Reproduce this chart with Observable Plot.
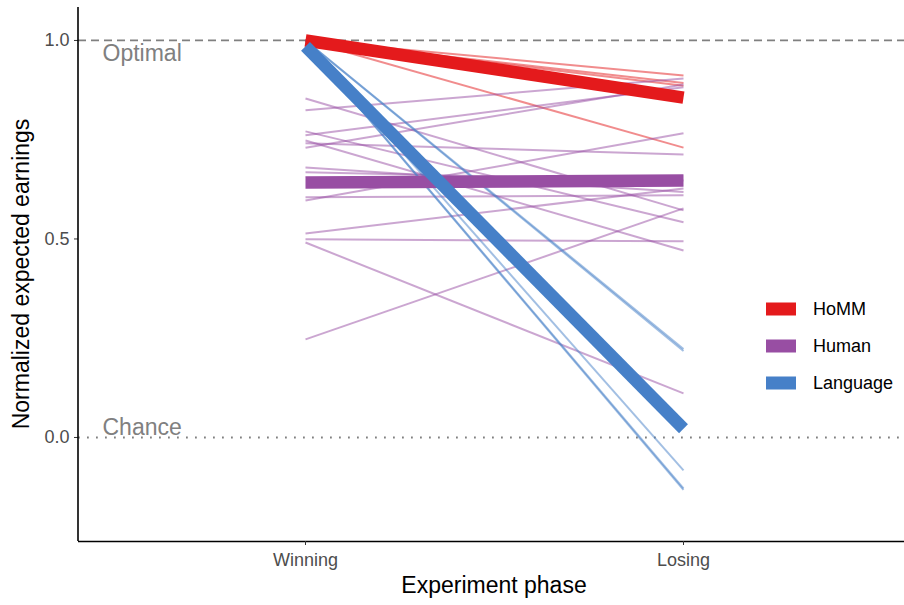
<!DOCTYPE html>
<html>
<head>
<meta charset="utf-8">
<script src="https://cdn.jsdelivr.net/npm/d3@7"></script>
<script src="https://cdn.jsdelivr.net/npm/@observablehq/plot@0.6"></script>
<style>
  body { margin: 0; background: #fff; }
  #chart svg { font-family: "Liberation Sans", Arial, Helvetica, sans-serif; }
</style>
</head>
<body>
<div id="chart"></div>
<script>
// Phases of the experiment and the three agent groups
const phases = ["Winning", "Losing"];
const groups = ["HoMM", "Human", "Language"];
const groupColors = ["#e41a1c", "#984ea3", "#4680c8"];

// Individual runs: normalized expected earnings per phase
const hommWinning = [1.0, 1.0, 1.0, 1.0];
const hommLosing = [0.912, 0.893, 0.886, 0.730];

const humanWinning = [0.854, 0.824, 0.771, 0.761, 0.748, 0.741, 0.730, 0.680, 0.668, 0.605, 0.597, 0.514, 0.499, 0.491, 0.247];
const humanLosing = [0.572, 0.904, 0.542, 0.882, 0.471, 0.713, 0.889, 0.618, 0.647, 0.610, 0.766, 0.627, 0.494, 0.111, 0.577];

const languageWinning = [1.0, 1.0, 0.995, 0.99, 0.99];
const languageLosing = [0.223, 0.218, -0.083, -0.128, -0.132];

// Group means per phase (order follows `groups`)
const meanWinning = [1.0, 0.642, 0.985];
const meanLosing = [0.856, 0.647, 0.022];

// Reference levels and axis ticks
const refValues = [1, 0];
const refLabels = ["Optimal", "Chance"];
const yTicks = [0, 0.5, 1];
const xTitle = "Experiment phase";
const yTitle = "Normalized expected earnings";

// Long-format tables for the line marks
const runs = [];
[[hommWinning, hommLosing], [humanWinning, humanLosing], [languageWinning, languageLosing]]
  .forEach(([w, l], g) => {
    w.forEach((v, i) => {
      const id = groups[g] + "-" + i;
      runs.push({group: groups[g], id, phase: phases[0], value: v});
      runs.push({group: groups[g], id, phase: phases[1], value: l[i]});
    });
  });

const means = [];
groups.forEach((g, i) => {
  means.push({group: g, phase: phases[0], value: meanWinning[i]});
  means.push({group: g, phase: phases[1], value: meanLosing[i]});
});

const W = 904, H = 605, mL = 78, mR = 0, mT = 7, mB = 64;
const yMin = -0.262;

const chart = Plot.plot({
  width: W,
  height: H,
  marginLeft: mL,
  marginRight: mR,
  marginTop: mT,
  marginBottom: mB,
  style: {background: "#fff", fontFamily: "'Liberation Sans', Arial, Helvetica, sans-serif"},
  x: {type: "point", domain: phases, range: [305, 683], padding: 0, label: null},
  y: {domain: [yMin, 1.083], label: null},
  color: {domain: groups, range: groupColors},
  marks: [
    // reference lines with their labels
    Plot.ruleY([refValues[0]], {stroke: "#808080", strokeWidth: 1.8, strokeDasharray: "8,5"}),
    Plot.ruleY([refValues[1]], {stroke: "#808080", strokeWidth: 1.8, strokeDasharray: "1.8,7.2"}),
    Plot.text([refLabels[0]], {
      frameAnchor: "left", y: [refValues[0]], text: d => d, dx: 24, dy: 13,
      textAnchor: "start", fill: "#808080", fontSize: 23
    }),
    Plot.text([refLabels[1]], {
      frameAnchor: "left", y: [refValues[1]], text: d => d, dx: 24, dy: -10,
      textAnchor: "start", fill: "#808080", fontSize: 23
    }),
    // individual runs
    Plot.line(runs, {
      x: "phase", y: "value", z: "id", stroke: "group",
      strokeWidth: 2, strokeOpacity: 0.5, strokeLinecap: "butt"
    }),
    // group means
    Plot.line(means, {
      x: "phase", y: "value", z: "group", stroke: "group",
      strokeWidth: 12.5, strokeLinecap: "butt"
    }),
    // axes
    Plot.ruleY([yMin], {stroke: "#000", strokeWidth: 1.6}),
    Plot.axisY({
      ticks: yTicks, tickFormat: d3.format(".1f"), tickSize: 4, tickPadding: 5,
      fontSize: 18, fill: "#4d4d4d", stroke: "#333", label: null
    }),
    Plot.axisX({
      tickSize: 4, tickPadding: 8, fontSize: 18, fill: "#4d4d4d", stroke: "#333", label: null
    })
  ]
});

document.getElementById("chart").appendChild(chart);

// left axis line, axis titles and the legend
const svg = d3.select(chart);
svg.append("line")
  .attr("x1", mL).attr("x2", mL)
  .attr("y1", mT).attr("y2", H - mB)
  .attr("stroke", "#000").attr("stroke-width", 1.6);

svg.append("text")
  .attr("transform", `translate(29,${(mT + H - mB) / 2}) rotate(-90)`)
  .attr("text-anchor", "middle")
  .attr("font-size", 23).attr("fill", "#000")
  .text(yTitle);

svg.append("text")
  .attr("x", (mL + W - mR) / 2 + 3).attr("y", 593)
  .attr("text-anchor", "middle")
  .attr("font-size", 23).attr("fill", "#000")
  .text(xTitle);

const color = chart.scale("color");
const legend = svg.append("g").attr("transform", "translate(766,309)");
groups.forEach((g, i) => {
  const row = legend.append("g").attr("transform", `translate(0,${i * 37})`);
  row.append("rect")
    .attr("x", 0).attr("y", -6.5).attr("width", 30).attr("height", 13)
    .attr("fill", color.apply(g));
  row.append("text")
    .attr("x", 47).attr("y", 0).attr("dy", "0.35em")
    .attr("text-anchor", "start")
    .attr("font-size", 18).attr("fill", "#000")
    .text(g);
});
</script>
</body>
</html>
